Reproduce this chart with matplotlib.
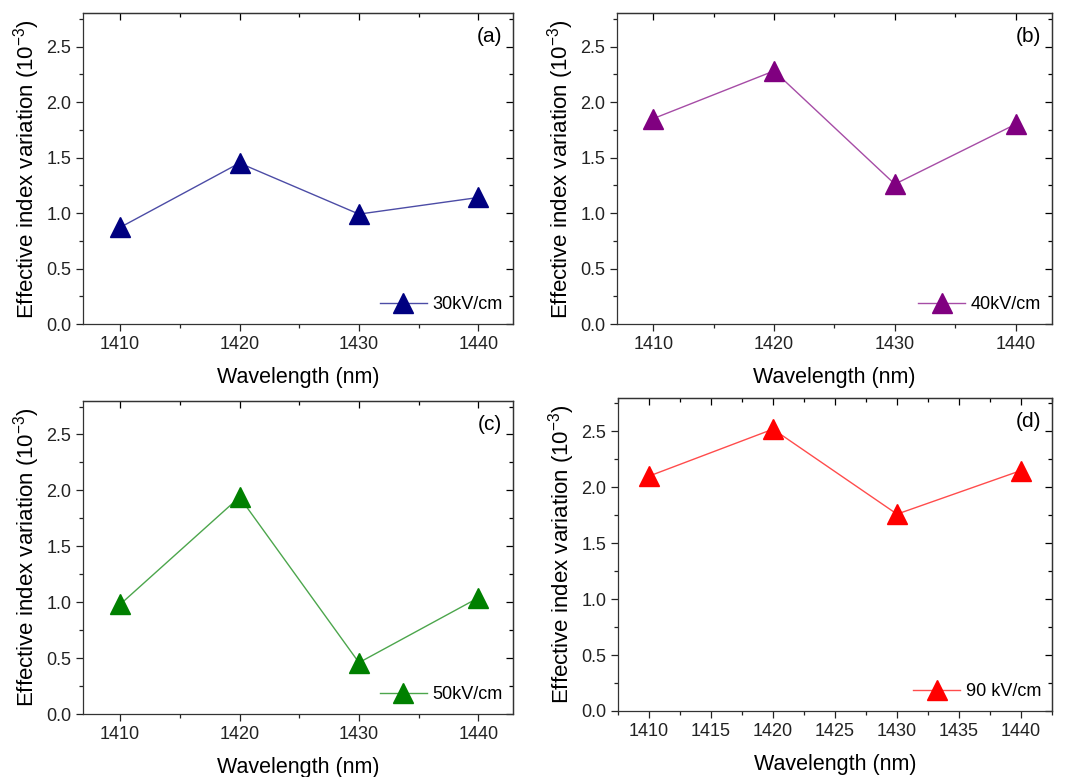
import numpy as np
import matplotlib
matplotlib.use("Agg")
import matplotlib.pyplot as plt
from matplotlib.colors import to_rgba
from matplotlib.ticker import MultipleLocator

plt.rcParams['font.family'] = ['Liberation Sans', 'DejaVu Sans']
plt.rcParams['mathtext.fontset'] = 'custom'
plt.rcParams['mathtext.rm'] = 'Liberation Sans'
plt.rcParams['mathtext.it'] = 'Liberation Sans'

wavelength = [1410, 1420, 1430, 1440]
dn_30 = [0.87, 1.45, 0.99, 1.14]
dn_40 = [1.85, 2.28, 1.26, 1.80]
dn_50 = [0.98, 1.94, 0.46, 1.04]
dn_90 = [2.10, 2.52, 1.76, 2.15]

labels = ['30kV/cm', '40kV/cm', '50kV/cm', '90 kV/cm']
tags = ['(a)', '(b)', '(c)', '(d)']
colors = ['#000080', '#800080', '#008000', '#ff0000']
series = [dn_30, dn_40, dn_50, dn_90]

# axes boxes in figure fractions
boxes = [
    [0.0776, 0.583, 0.4019, 0.400],
    [0.5766, 0.583, 0.4065, 0.400],
    [0.0776, 0.081, 0.4019, 0.403],
    [0.5776, 0.085, 0.4056, 0.403],
]
xlims = [(1406.9, 1442.9), (1407.0, 1443.0), (1406.9, 1442.9), (1407.5, 1442.5)]

fig = plt.figure(figsize=(10.7, 7.77), dpi=100)

for i in range(4):
    ax = fig.add_axes(boxes[i])
    ax.plot(wavelength, series[i], color=to_rgba(colors[i], 0.7), lw=1.0,
            marker='^', ms=14, mfc=colors[i], mec=colors[i], label=labels[i])
    ax.set_xlim(*xlims[i])
    ax.set_ylim(0, 2.8)
    if i == 3:
        ax.xaxis.set_major_locator(MultipleLocator(5))
        ax.xaxis.set_minor_locator(MultipleLocator(2.5))
    else:
        ax.xaxis.set_major_locator(MultipleLocator(10))
        ax.xaxis.set_minor_locator(MultipleLocator(5))
    ax.yaxis.set_minor_locator(MultipleLocator(0.25))
    ax.set_yticks(np.arange(0, 2.51, 0.5))
    ax.set_yticklabels(['%.1f' % v for v in np.arange(0, 2.51, 0.5)])

    ax.tick_params(which='both', direction='out', top=False, right=False,
                   labelsize=13, colors='#222222')
    ax.tick_params(which='major', length=5, width=0.9)
    ax.tick_params(which='minor', length=3, width=0.9)
    # mirrored inward ticks on top/right
    sec_x = ax.secondary_xaxis('top')
    sec_x.xaxis.set_major_locator(ax.xaxis.get_major_locator())
    sec_x.xaxis.set_minor_locator(ax.xaxis.get_minor_locator())
    sec_x.tick_params(which='both', direction='in', labeltop=False, width=0.9)
    sec_x.tick_params(which='major', length=5)
    sec_x.tick_params(which='minor', length=3)
    sec_y = ax.secondary_yaxis('right')
    sec_y.yaxis.set_major_locator(MultipleLocator(0.5))
    sec_y.yaxis.set_minor_locator(MultipleLocator(0.25))
    sec_y.tick_params(which='both', direction='in', labelright=False, width=0.9)
    sec_y.tick_params(which='major', length=5)
    sec_y.tick_params(which='minor', length=3)
    for s in list(ax.spines.values()) + [sec_x.spines['top'], sec_y.spines['right']]:
        s.set_linewidth(0.9)
        s.set_color('#333333')

    ax.set_xlabel('Wavelength (nm)', fontsize=15.5, labelpad=10)
    ax.set_ylabel('Effective index variation (10$^{-3}$)', fontsize=16, labelpad=3)
    ax.text(0.975, 0.955, tags[i], transform=ax.transAxes, ha='right', va='top',
            fontsize=15)
    ax.legend(loc='lower right', frameon=False, fontsize=13, handlelength=2.6,
              handletextpad=0.3, borderaxespad=0.2, bbox_to_anchor=(1.0, 0.0))

fig.savefig('out.png', dpi=100)
